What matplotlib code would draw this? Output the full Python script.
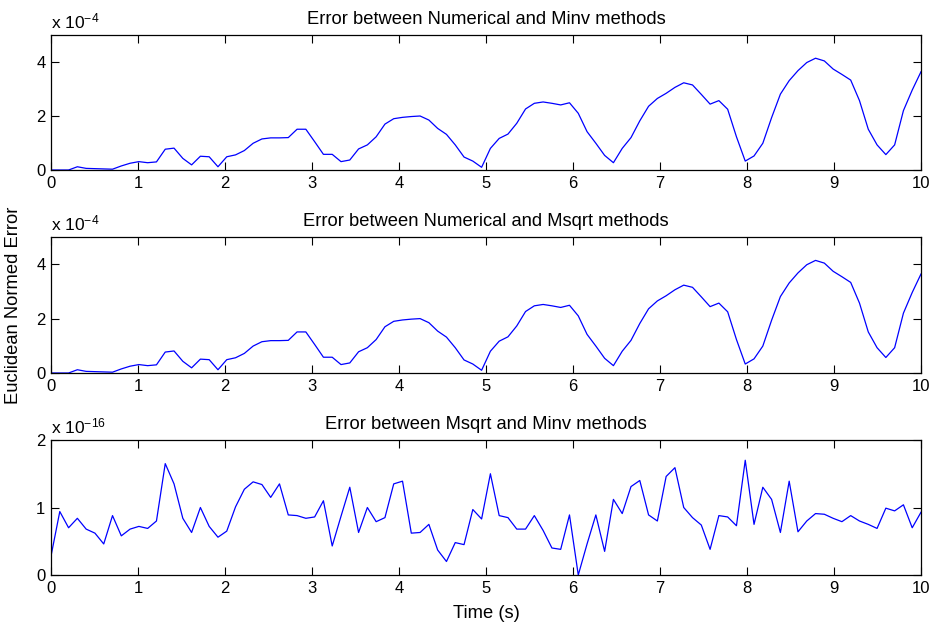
""" Error between rotation methods, three stacked panels """

import numpy as np
import matplotlib
matplotlib.use("Agg")
import matplotlib.pyplot as plt

# time axis: 100 samples from 0 to 10 s
t_start, t_end, n_samples = 0.0, 10.0, 100

# Numerical vs Minv (units of 1e-4)
err_minv = [0.00, 0.00, 0.00, 0.12, 0.06, 0.05, 0.04, 0.03, 0.15, 0.25,
            0.31, 0.27, 0.30, 0.77, 0.81, 0.43, 0.19, 0.51, 0.49, 0.12,
            0.49, 0.56, 0.72, 0.99, 1.15, 1.19, 1.19, 1.20, 1.51, 1.51,
            1.05, 0.58, 0.58, 0.31, 0.37, 0.78, 0.93, 1.23, 1.70, 1.90,
            1.95, 1.98, 2.00, 1.85, 1.54, 1.32, 0.93, 0.48, 0.33, 0.10,
            0.80, 1.17, 1.33, 1.73, 2.26, 2.47, 2.52, 2.47, 2.41, 2.49,
            2.10, 1.42, 0.99, 0.54, 0.27, 0.80, 1.20, 1.82, 2.36, 2.65,
            2.84, 3.06, 3.23, 3.15, 2.80, 2.44, 2.57, 2.25, 1.23, 0.33,
            0.52, 0.99, 1.94, 2.81, 3.31, 3.68, 3.98, 4.14, 4.04, 3.74,
            3.54, 3.33, 2.57, 1.51, 0.93, 0.57, 0.93, 2.20, 2.96, 3.64]

# Numerical vs Msqrt (units of 1e-4) - same as Minv to plotting precision
err_msqrt = list(err_minv)

# Msqrt vs Minv (units of 1e-16)
err_sqrt_inv = [0.28, 0.94, 0.70, 0.84, 0.68, 0.62, 0.46, 0.88, 0.58, 0.68,
                0.72, 0.69, 0.80, 1.65, 1.35, 0.84, 0.63, 1.00, 0.72, 0.56,
                0.65, 1.01, 1.27, 1.38, 1.34, 1.15, 1.35, 0.89, 0.88, 0.84,
                0.86, 1.10, 0.43, 0.87, 1.30, 0.63, 1.00, 0.79, 0.85, 1.35,
                1.39, 0.62, 0.63, 0.75, 0.37, 0.20, 0.48, 0.45, 0.97, 0.83,
                1.50, 0.88, 0.85, 0.68, 0.68, 0.88, 0.66, 0.40, 0.38, 0.89,
                0.00, 0.46, 0.89, 0.35, 1.12, 0.91, 1.31, 1.40, 0.89, 0.80,
                1.46, 1.59, 1.00, 0.85, 0.74, 0.38, 0.88, 0.86, 0.73, 1.70,
                0.75, 1.30, 1.12, 0.63, 1.39, 0.64, 0.80, 0.91, 0.90, 0.84,
                0.79, 0.88, 0.80, 0.75, 0.69, 0.99, 0.95, 1.04, 0.70, 0.93]

titles = ["Error between Numerical and Minv methods",
          "Error between Numerical and Msqrt methods",
          "Error between Msqrt and Minv methods"]
exponents = ["-4", "-4", "-16"]
ylims = [(0, 5), (0, 5), (0, 2)]
yticks = [[0, 2, 4], [0, 2, 4], [0, 1, 2]]
xticks = list(range(0, 11))

plt.rcParams.update({'font.family': ['Liberation Sans', 'DejaVu Sans'],
                     'font.size': 12,
                     'mathtext.fontset': 'custom',
                     'mathtext.rm': 'Liberation Sans',
                     'mathtext.default': 'regular'})

t = np.linspace(t_start, t_end, n_samples)
series = [err_minv, err_msqrt, err_sqrt_inv]

W, H = 935, 625
fig = plt.figure(figsize=(W / 100, H / 100), dpi=100)

# (top, bottom) pixel rows of the three panels
rows = [(35, 170), (237, 373), (440, 575)]
left, right = 51, 921

axes = []
for (top, bot), y, title, ex, yl, yt in zip(rows, series, titles, exponents, ylims, yticks):
    ax = fig.add_axes([left / W, 1 - bot / H, (right - left) / W, (bot - top) / H])
    ax.plot(t, y, color=(0, 0, 1), lw=0.9)
    ax.set_xlim(0, 10)
    ax.set_ylim(*yl)
    ax.set_xticks(xticks)
    ax.set_yticks(yt)
    ax.tick_params(direction='in', length=6, width=0.8, top=True, right=True,
                   labelsize=12, pad=4)
    for s in ax.spines.values():
        s.set_linewidth(0.9)
    ax.set_title(title, fontsize=13.2, pad=8)
    ax.text(0, 1.03, "x 10$^{%s}$" % ex, transform=ax.transAxes,
            ha='left', va='bottom', fontsize=12.5)
    axes.append(ax)

axes[1].set_ylabel("Euclidean Normed Error", fontsize=13.2)
axes[1].yaxis.set_label_coords(-0.0333, 0.5)
axes[2].set_xlabel("Time (s)", fontsize=13.2)
axes[2].xaxis.set_label_coords(0.5, -0.225)

fig.savefig("out.png", dpi=100)
